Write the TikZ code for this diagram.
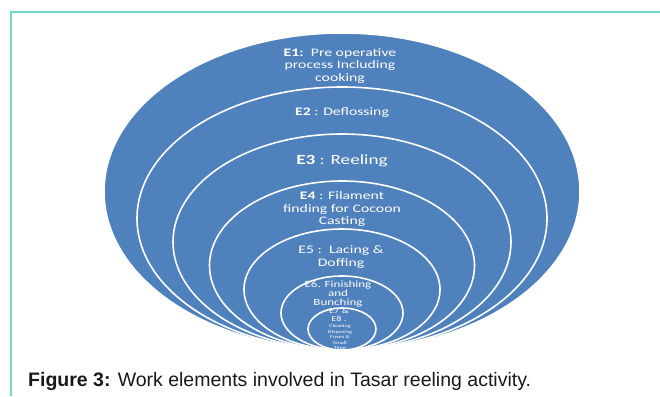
\documentclass[tikz,border=0pt]{standalone}
\usepackage{fontspec}
\setmainfont{Liberation Sans}
\newfontfamily\ringfont[FakeStretch=1.37]{Carlito}

\definecolor{ringblue}{HTML}{4F81BD}
\definecolor{frameteal}{HTML}{72D9C8}

\begin{document}
\begin{tikzpicture}[x=1pt,y=-1pt,
    ring/.style={fill=ringblue, draw=white, line width=1.6pt},
    ringtext/.style={text=white, align=center, inner sep=0pt}]

\useasboundingbox (0,0) rectangle (660,396);

% Frame of the figure (only its top and left edges are in view)
\coordinate (FL) at (11,396);
\coordinate (FC) at (11,12);
\coordinate (FR) at (660,12);
\draw[frameteal, line width=1.6pt] (FL) -- (FC) -- (FR);

% Common centre line and bottom point of the nested ellipses
\def\cx{342}
\def\by{350}

% Function to draw one ring of the onion
\newcommand{\drawring}[2]{
    % #1 is the x radius, #2 is the y radius
    \draw[ring] (\cx,\by-#2) ellipse [x radius=#1, y radius=#2];
}

% E1 -- outer ellipse
\drawring{238}{158.5}
\node[ringtext, font=\ringfont\fontsize{11.5}{12.5}\selectfont] (e1) at (340,66)
    {\textbf{E1:}\ \ Pre operative\\process Including\\cooking};

% E2
\drawring{205}{131.5}
\node[ringtext, font=\ringfont\fontsize{11.5}{12.5}\selectfont] (e2) at (342,113)
    {\textbf{E2} : Deflossing};

% E3
\drawring{169}{108}
\node[ringtext, font=\ringfont\fontsize{14}{15}\selectfont] (e3) at (342,161)
    {\textbf{E3} : Reeling};

% E4
\drawring{132.5}{84.5}
\node[ringtext, font=\ringfont\fontsize{11.5}{12.5}\selectfont] (e4) at (342,209)
    {\textbf{E4} : Filament\\finding for Cocoon\\Casting};

% E5
\drawring{98}{60.5}
\node[ringtext, font=\ringfont\fontsize{11.5}{12.5}\selectfont] (e5) at (341,257)
    {E5 :\ \ Lacing \&\\Doffing};

% E6
\drawring{61}{37}
\node[ringtext, font=\ringfont\fontsize{9.5}{9}\selectfont] (e6) at (338,294)
    {E6. Finishing\\and\\Bunching};

% E7 and E8 -- inner ellipse
\drawring{34}{21}
\node[ringtext, font=\ringfont\fontsize{7.5}{8}\selectfont] (e7) at (339,315)
    {E7 \&\\E8 .};
\node[ringtext, font=\ringfont\fontsize{4.5}{5.5}\selectfont] (e8) at (340,337)
    {Cleaning\\Disposing\\Fuses \&\\Small\\Time};

% Caption
\node[anchor=west, inner sep=0pt, text=black!90, font=\fontsize{19.5}{22}\selectfont] (cap) at (28,381)
    {\textbf{Figure 3:} Work elements involved in Tasar reeling activity.};

\end{tikzpicture}
\end{document}
